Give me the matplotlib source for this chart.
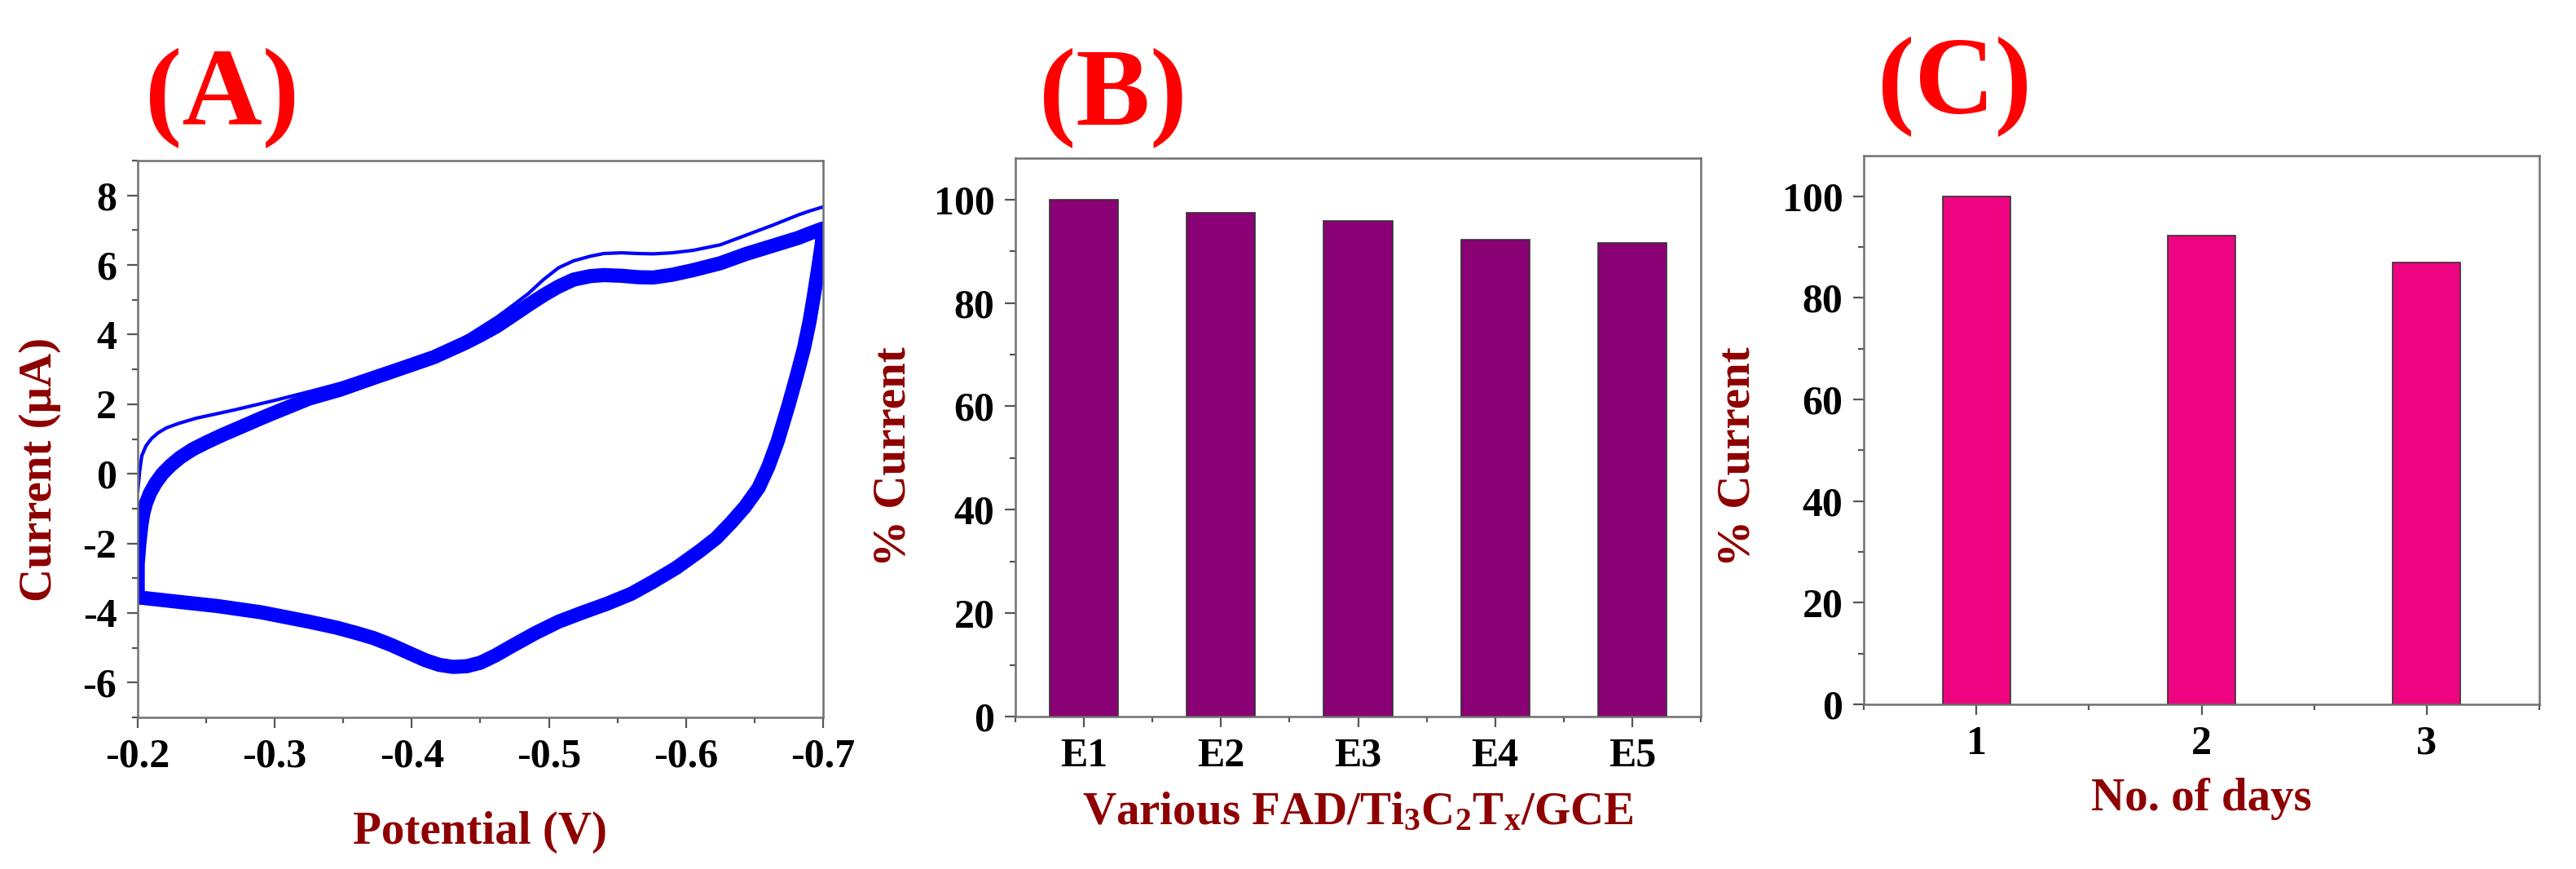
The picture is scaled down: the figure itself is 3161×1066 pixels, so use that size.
#!/usr/bin/env python3
"""
Three-panel figure: (A) repeated CV scans, (B) % current for five electrodes,
(C) % current over storage days.

Output:
  * out.png
"""
import matplotlib

matplotlib.use("Agg")
import matplotlib.pyplot as plt
from matplotlib.ticker import MultipleLocator

# (A) CV, band of repeated cycles: cathodic sweep -0.2 -> -0.7 V, then back
cv_band_v = [
    -0.200, -0.230, -0.258, -0.290, -0.325, -0.345, -0.359, -0.372, -0.385,
    -0.398, -0.410, -0.420, -0.430, -0.440, -0.450, -0.461, -0.473, -0.490,
    -0.507, -0.525, -0.542, -0.560, -0.576, -0.593, -0.610, -0.622, -0.633,
    -0.643, -0.653, -0.660, -0.667, -0.675, -0.681, -0.686, -0.690, -0.693,
    -0.696, -0.699, -0.700,
    -0.700, -0.691, -0.682, -0.663, -0.644, -0.625, -0.605, -0.590, -0.576,
    -0.565, -0.553, -0.540, -0.530, -0.518, -0.507, -0.496, -0.485, -0.473,
    -0.462, -0.450, -0.439, -0.416, -0.394, -0.371, -0.348, -0.325, -0.300,
    -0.289, -0.275, -0.262, -0.250, -0.240, -0.231, -0.224, -0.218, -0.213,
    -0.209, -0.206, -0.204, -0.2026, -0.2012, -0.200, -0.200,
]
cv_band_i = [
    -3.55, -3.68, -3.80, -3.98, -4.25, -4.42, -4.57, -4.72, -4.92,
    -5.15, -5.36, -5.49, -5.55, -5.53, -5.43, -5.22, -4.95, -4.58,
    -4.25, -3.98, -3.74, -3.45, -3.10, -2.70, -2.22, -1.85, -1.40,
    -0.95, -0.40, 0.20, 0.95, 2.00, 2.85, 3.60, 4.35, 5.05,
    5.80, 6.60, 7.00,
    7.05, 6.92, 6.78, 6.55, 6.32, 6.05, 5.85, 5.72, 5.64,
    5.65, 5.69, 5.71, 5.68, 5.58, 5.38, 5.13, 4.85, 4.53,
    4.24, 3.98, 3.76, 3.35, 3.05, 2.74, 2.42, 2.16, 1.76,
    1.58, 1.34, 1.12, 0.90, 0.70, 0.47, 0.24, 0.00, -0.27,
    -0.55, -0.85, -1.15, -1.50, -2.00, -2.60, -3.55,
]

# (A) CV, separate first anodic sweep (thin outer line)
cv_first_v = [
    -0.700, -0.690, -0.682, -0.663, -0.644, -0.625, -0.605, -0.590, -0.576,
    -0.565, -0.553, -0.540, -0.530, -0.518, -0.507, -0.496, -0.485, -0.473,
    -0.462, -0.440, -0.416, -0.394, -0.371, -0.348, -0.327, -0.300, -0.270,
    -0.243, -0.230, -0.221, -0.215, -0.210, -0.206, -0.203, -0.2015, -0.200,
]
cv_first_i = [
    7.67, 7.55, 7.44, 7.14, 6.86, 6.58, 6.42, 6.35, 6.32,
    6.33, 6.35, 6.33, 6.25, 6.12, 5.92, 5.58, 5.18, 4.82,
    4.50, 3.95, 3.50, 3.20, 2.90, 2.60, 2.38, 2.11, 1.83,
    1.60, 1.45, 1.32, 1.18, 1.01, 0.80, 0.52, 0.10, -0.50,
]

# (B) electrodes
electrodes = ["E1", "E2", "E3", "E4", "E5"]
electrode_pct = [100.0, 97.4, 95.8, 92.3, 91.6]

# (C) storage days
days = [1, 2, 3]
days_pct = [100.0, 92.2, 87.0]

LABEL_RED = "#8E0000"
SPINE_GRAY = "#707070"

plt.rcParams["font.family"] = ["Liberation Serif", "DejaVu Serif"]
plt.rcParams["font.weight"] = "bold"
plt.rcParams["mathtext.fontset"] = "custom"
plt.rcParams["mathtext.rm"] = "Liberation Serif:bold"
plt.rcParams["mathtext.bf"] = "Liberation Serif:bold"
plt.rcParams["mathtext.default"] = "bf"


def style_axes(ax):
    for sp in ax.spines.values():
        sp.set_color(SPINE_GRAY)
        sp.set_linewidth(1.8)
    ax.tick_params(which="both", direction="out", color="#555555", width=1.6,
                   top=False, right=False)
    ax.tick_params(which="major", length=9.5, labelsize=36, pad=9)
    ax.tick_params(which="minor", length=5)
    for lab in ax.get_xticklabels() + ax.get_yticklabels():
        lab.set_fontweight("bold")


def main() -> None:
    fig = plt.figure(figsize=(31.61, 10.66), dpi=100)

    # ---- (A) ----
    ax_a = fig.add_axes([0.05346, 0.17448, 0.26606, 0.64071])
    ax_a.plot(cv_band_v, cv_band_i, color="#0000FF", lw=12.5,
              solid_joinstyle="round", solid_capstyle="round")
    ax_a.plot(cv_first_v, cv_first_i, color="#0000FF", lw=3.0,
              solid_joinstyle="round")
    ax_a.set_xlim(-0.2, -0.7)
    ax_a.set_ylim(-7, 9)
    ax_a.xaxis.set_minor_locator(MultipleLocator(0.05))
    ax_a.yaxis.set_minor_locator(MultipleLocator(1))
    ax_a.set_xticks([-0.2, -0.3, -0.4, -0.5, -0.6, -0.7])
    ax_a.set_xticklabels(["-0.2", "-0.3", "-0.4", "-0.5", "-0.6", "-0.7"])
    ax_a.set_yticks(range(-6, 9, 2))
    ax_a.set_yticklabels([str(v) for v in range(-6, 9, 2)])
    style_axes(ax_a)
    ax_a.set_xlabel("Potential (V)", fontsize=41, color=LABEL_RED,
                    fontweight="bold")
    ax_a.set_ylabel("Current (\u03bcA)", fontsize=41, color=LABEL_RED,
                    fontweight="bold")
    ax_a.xaxis.set_label_coords(0.5, -0.168)
    ax_a.yaxis.set_label_coords(-0.112, 0.445)

    # ---- (B) ----
    ax_b = fig.add_axes([0.39418, 0.17542, 0.26606, 0.64259])
    xb = list(range(1, len(electrodes) + 1))
    ax_b.bar(xb, electrode_pct, width=0.5, color="#8A0075",
             edgecolor="#333333", linewidth=1.2)
    ax_b.set_xlim(0.5, 5.5)
    ax_b.set_ylim(0, 108)
    ax_b.set_xticks(xb)
    ax_b.set_xticklabels(electrodes)
    ax_b.xaxis.set_minor_locator(MultipleLocator(1, offset=0.5))
    ax_b.yaxis.set_major_locator(MultipleLocator(20))
    ax_b.yaxis.set_minor_locator(MultipleLocator(10))
    style_axes(ax_b)
    ax_b.set_xlabel(r"Various FAD/Ti$_3$C$_2$T$_x$/GCE", fontsize=41,
                    color=LABEL_RED, fontweight="bold")
    ax_b.set_ylabel("% Current", fontsize=41, color=LABEL_RED,
                    fontweight="bold")
    ax_b.xaxis.set_label_coords(0.5, -0.134)
    ax_b.yaxis.set_label_coords(-0.147, 0.466)

    # ---- (C) ----
    ax_c = fig.add_axes([0.72351, 0.18949, 0.26226, 0.63133])
    ax_c.bar(days, days_pct, width=0.3, color="#EE0480",
             edgecolor="#333333", linewidth=1.2)
    ax_c.set_xlim(0.5, 3.5)
    ax_c.set_ylim(0, 108)
    ax_c.set_xticks(days)
    ax_c.set_xticklabels([str(d) for d in days])
    ax_c.xaxis.set_minor_locator(MultipleLocator(1, offset=0.5))
    ax_c.yaxis.set_major_locator(MultipleLocator(20))
    ax_c.yaxis.set_minor_locator(MultipleLocator(10))
    style_axes(ax_c)
    ax_c.set_xlabel("No. of days", fontsize=41, color=LABEL_RED,
                    fontweight="bold")
    ax_c.set_ylabel("% Current", fontsize=41, color=LABEL_RED,
                    fontweight="bold")
    ax_c.xaxis.set_label_coords(0.5, -0.134)
    ax_c.yaxis.set_label_coords(-0.155, 0.452)

    # panel letters
    for txt, xc, yb in [("(A)", 273, 153), ("(B)", 1366, 153), ("(C)", 2398, 139)]:
        fig.text(xc / 3161, 1 - yb / 1066, txt, fontsize=98, color="#FF0000",
                 fontweight="bold", ha="center", va="baseline")

    fig.savefig("out.png", dpi=100)
    plt.close(fig)


if __name__ == "__main__":
    main()
